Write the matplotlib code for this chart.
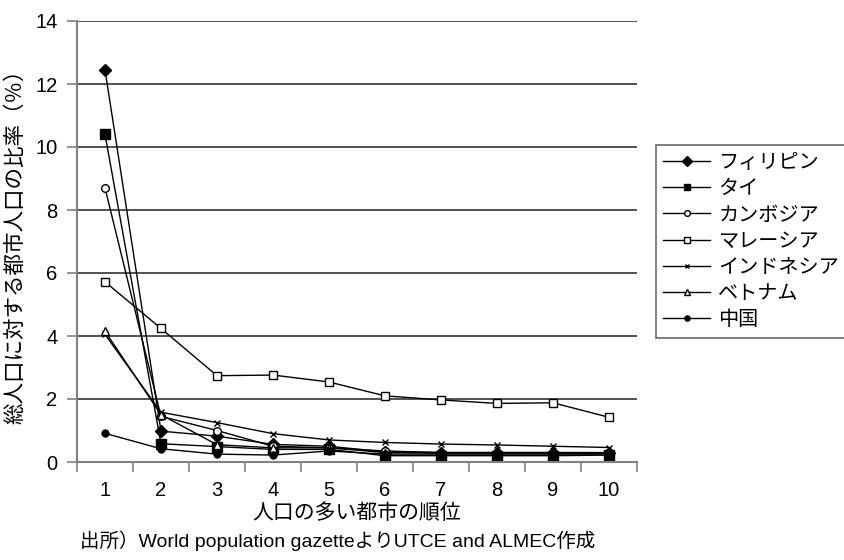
import matplotlib
matplotlib.use("Agg")
import matplotlib.pyplot as plt
from matplotlib.ticker import FixedLocator, NullFormatter

plt.rcParams['font.family'] = ['Liberation Sans', 'Noto Sans CJK JP']
JP = ['Noto Sans CJK JP', 'Liberation Sans']

ranks = [1, 2, 3, 4, 5, 6, 7, 8, 9, 10]

philippines = [12.45, 0.98, 0.82, 0.56, 0.50, 0.32, 0.30, 0.30, 0.30, 0.28]
thailand = [10.40, 0.58, 0.49, 0.40, 0.40, 0.20, 0.20, 0.20, 0.20, 0.22]
cambodia = [8.70, 1.45, 1.00, 0.50, 0.45, 0.35, 0.30, 0.30, 0.30, 0.30]
malaysia = [5.72, 4.24, 2.74, 2.76, 2.54, 2.10, 1.97, 1.86, 1.88, 1.42]
indonesia = [4.05, 1.58, 1.25, 0.90, 0.70, 0.62, 0.57, 0.54, 0.50, 0.46]
vietnam = [4.15, 1.50, 0.55, 0.45, 0.45, 0.30, 0.28, 0.28, 0.28, 0.28]
china = [0.91, 0.42, 0.25, 0.22, 0.35, 0.25, 0.25, 0.25, 0.25, 0.25]

series = [
    ("フィリピン", philippines, dict(marker='D', ms=6.5, mfc='black')),
    ("タイ", thailand, dict(marker='s', ms=6.5, mfc='black')),
    ("カンボジア", cambodia, dict(marker='o', ms=5.5, mfc='white')),
    ("マレーシア", malaysia, dict(marker='s', ms=6, mfc='white')),
    ("インドネシア", indonesia, dict(marker='x', ms=4.5, mew=1.0)),
    ("ベトナム", vietnam, dict(marker='^', ms=6, mfc='white')),
    ("中国", china, dict(marker='o', ms=5, mfc='black')),
]

fig = plt.figure(figsize=(8.44, 5.6), dpi=100)
ax = fig.add_axes([77 / 844, 1 - 462 / 560, (637 - 77) / 844, (462 - 21) / 560])

for name, vals, style in series:
    ax.plot(ranks, vals, color='black', lw=1.0, mec='black', label=name, **style)

ax.set_xlim(0.5, 10.5)
ax.set_ylim(0, 14)
ax.set_yticks(range(0, 15, 2))
ax.set_xticks(ranks)
ax.set_xticklabels([str(r) for r in ranks])
ax.xaxis.set_minor_locator(FixedLocator([r - 0.5 for r in ranks] + [10.5]))
ax.xaxis.set_minor_formatter(NullFormatter())
ax.tick_params(axis='x', which='major', length=0, pad=14, labelsize=14.5)
ax.tick_params(axis='x', which='minor', length=7, width=1.2, color='#808080', direction='out')
ax.tick_params(axis='y', length=7, width=1.2, color='#808080', direction='out', pad=7, labelsize=14.5)

ax.grid(axis='y', color='#222222', lw=1.1)
ax.set_axisbelow(True)
for side in ('top', 'right'):
    ax.spines[side].set_visible(False)
for side in ('left', 'bottom'):
    ax.spines[side].set_color('#808080')
    ax.spines[side].set_linewidth(1.5)

ax.set_xlabel("人口の多い都市の順位", family=JP, fontsize=15, labelpad=1)
ax.set_ylabel("総人口に対する都市人口の比率（％）", family=JP, fontsize=15.5, labelpad=6)

leg = ax.legend(loc='upper left', bbox_to_anchor=(656 / 844, 1 - 145 / 560),
                bbox_transform=fig.transFigure, borderaxespad=0,
                prop={'family': JP, 'size': 14.5}, frameon=True, fancybox=False,
                edgecolor='#444444', handlelength=2.35, handletextpad=0.4,
                labelspacing=0.26, borderpad=0.35, markerscale=0.75)
leg.get_frame().set_linewidth(1.2)

fig.text(80 / 844, 1 - 541 / 560, "出所）World population gazetteよりUTCE and ALMEC作成",
         fontsize=14, va='center', ha='left')

fig.savefig("out.png", dpi=100)
